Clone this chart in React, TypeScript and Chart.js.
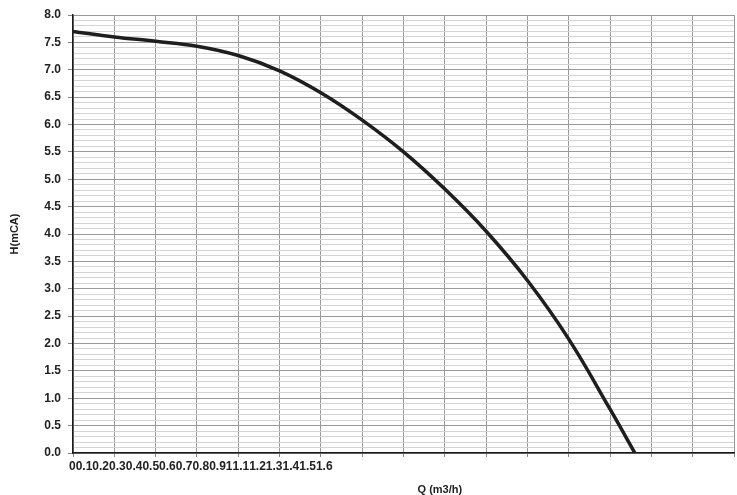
import { useEffect, useRef } from "react";
import Chart from "chart.js/auto";
import type { ChartConfiguration, Plugin } from "chart.js/auto";

// caudal (m3/h) y altura (mCA)
const caudal = [0, 0.1, 0.2, 0.3, 0.4, 0.5, 0.6, 0.7, 0.8, 0.9, 1.0, 1.1, 1.2, 1.3, 1.36];
const altura = [7.7, 7.6, 7.52, 7.43, 7.26, 6.98, 6.58, 6.08, 5.5, 4.82, 4.05, 3.15, 2.08, 0.8, 0];

// etiquetas del eje X (se dibujan pegadas, como en el original)
const xLabels = ["0", "0.1", "0.2", "0.3", "0.4", "0.5", "0.6", "0.7", "0.8", "0.9", "1", "1.1", "1.2", "1.3", "1.4", "1.5", "1.6"];

const xTitle = "Q (m3/h)";
const yTitle = "H(mCA)";

const FONT = "Arial, 'Liberation Sans', sans-serif";

// dibuja las etiquetas del eje X una tras otra, sin separación
const packedLabels: Plugin<"line"> = {
  id: "packedLabels",
  afterDraw(chart) {
    const { ctx, chartArea } = chart;
    ctx.save();
    ctx.fillStyle = "#222";
    ctx.font = `bold 12px ${FONT}`;
    ctx.textBaseline = "middle";
    ctx.textAlign = "left";
    let x = chartArea.left - 4;
    const y = chartArea.bottom + 14;
    xLabels.forEach((l) => {
      ctx.fillText(l, x, y);
      x += ctx.measureText(l).width;
    });
    ctx.font = `bold 11px ${FONT}`;
    ctx.textAlign = "center";
    ctx.fillText(xTitle, chartArea.left + (chartArea.right - chartArea.left) * 0.555, chartArea.bottom + 37);
    ctx.restore();
  },
};

const PumpCurve = () => {
  const canvasRef = useRef<HTMLCanvasElement | null>(null);

  useEffect(() => {
    const ctx = canvasRef.current?.getContext("2d");
    if (!ctx) return;

    const isMajor = (v: number) => Math.round(v * 10) % 5 === 0;

    const config: ChartConfiguration<"line", { x: number; y: number }[]> = {
      type: "line",
      data: {
        datasets: [
          {
            data: caudal.map((q, i) => ({ x: q, y: altura[i] })),
            borderColor: "#1e1e1e",
            borderWidth: 3.5,
            pointRadius: 0,
            tension: 0.4,
            fill: false,
          },
        ],
      },
      options: {
        animation: false,
        responsive: true,
        maintainAspectRatio: false,
        layout: { padding: { top: 15, right: 2, left: 0, bottom: 0 } },
        plugins: { legend: { display: false }, tooltip: { enabled: false } },
        scales: {
          x: {
            type: "linear",
            min: 0,
            max: 1.6,
            ticks: {
              stepSize: 0.1,
              autoSkip: false,
              callback: () => "",
            },
            grid: { color: "#9a9a9a", lineWidth: 1, tickLength: 4, tickColor: "#888" },
            border: { color: "#1a1a1a", width: 1.5 },
            afterFit: (scale) => {
              scale.height = 42;
            },
          },
          y: {
            min: 0,
            max: 8,
            ticks: {
              stepSize: 0.1,
              autoSkip: false,
              padding: 7,
              color: "#222",
              font: { family: FONT, size: 12, weight: "bold" },
              callback: (v) => (isMajor(Number(v)) ? Number(v).toFixed(1) : ""),
            },
            grid: {
              color: (c) => (isMajor(c.tick.value) ? "#9a9a9a" : "#d4d4d4"),
              lineWidth: 1,
              tickLength: 5,
              tickColor: (c) => (isMajor(c.tick.value) ? "#888" : "rgba(0,0,0,0)"),
            },
            border: { color: "#1a1a1a", width: 1.5 },
            title: {
              display: true,
              text: yTitle,
              color: "#222",
              font: { family: FONT, size: 11, weight: "bold" },
              padding: { top: 8, bottom: 0 },
            },
            afterFit: (scale) => {
              scale.width = 73;
            },
          },
        },
      },
      plugins: [packedLabels],
    };

    const chart = new Chart(ctx, config);
    return () => {
      chart.destroy();
    };
  }, []);

  return (
    <div style={{ position: "relative", width: 737, height: 495 }}>
      <canvas ref={canvasRef}></canvas>
    </div>
  );
};

export default function App() {
  useEffect(() => {
    document.body.style.margin = "0";
  }, []);
  return <PumpCurve />;
}
